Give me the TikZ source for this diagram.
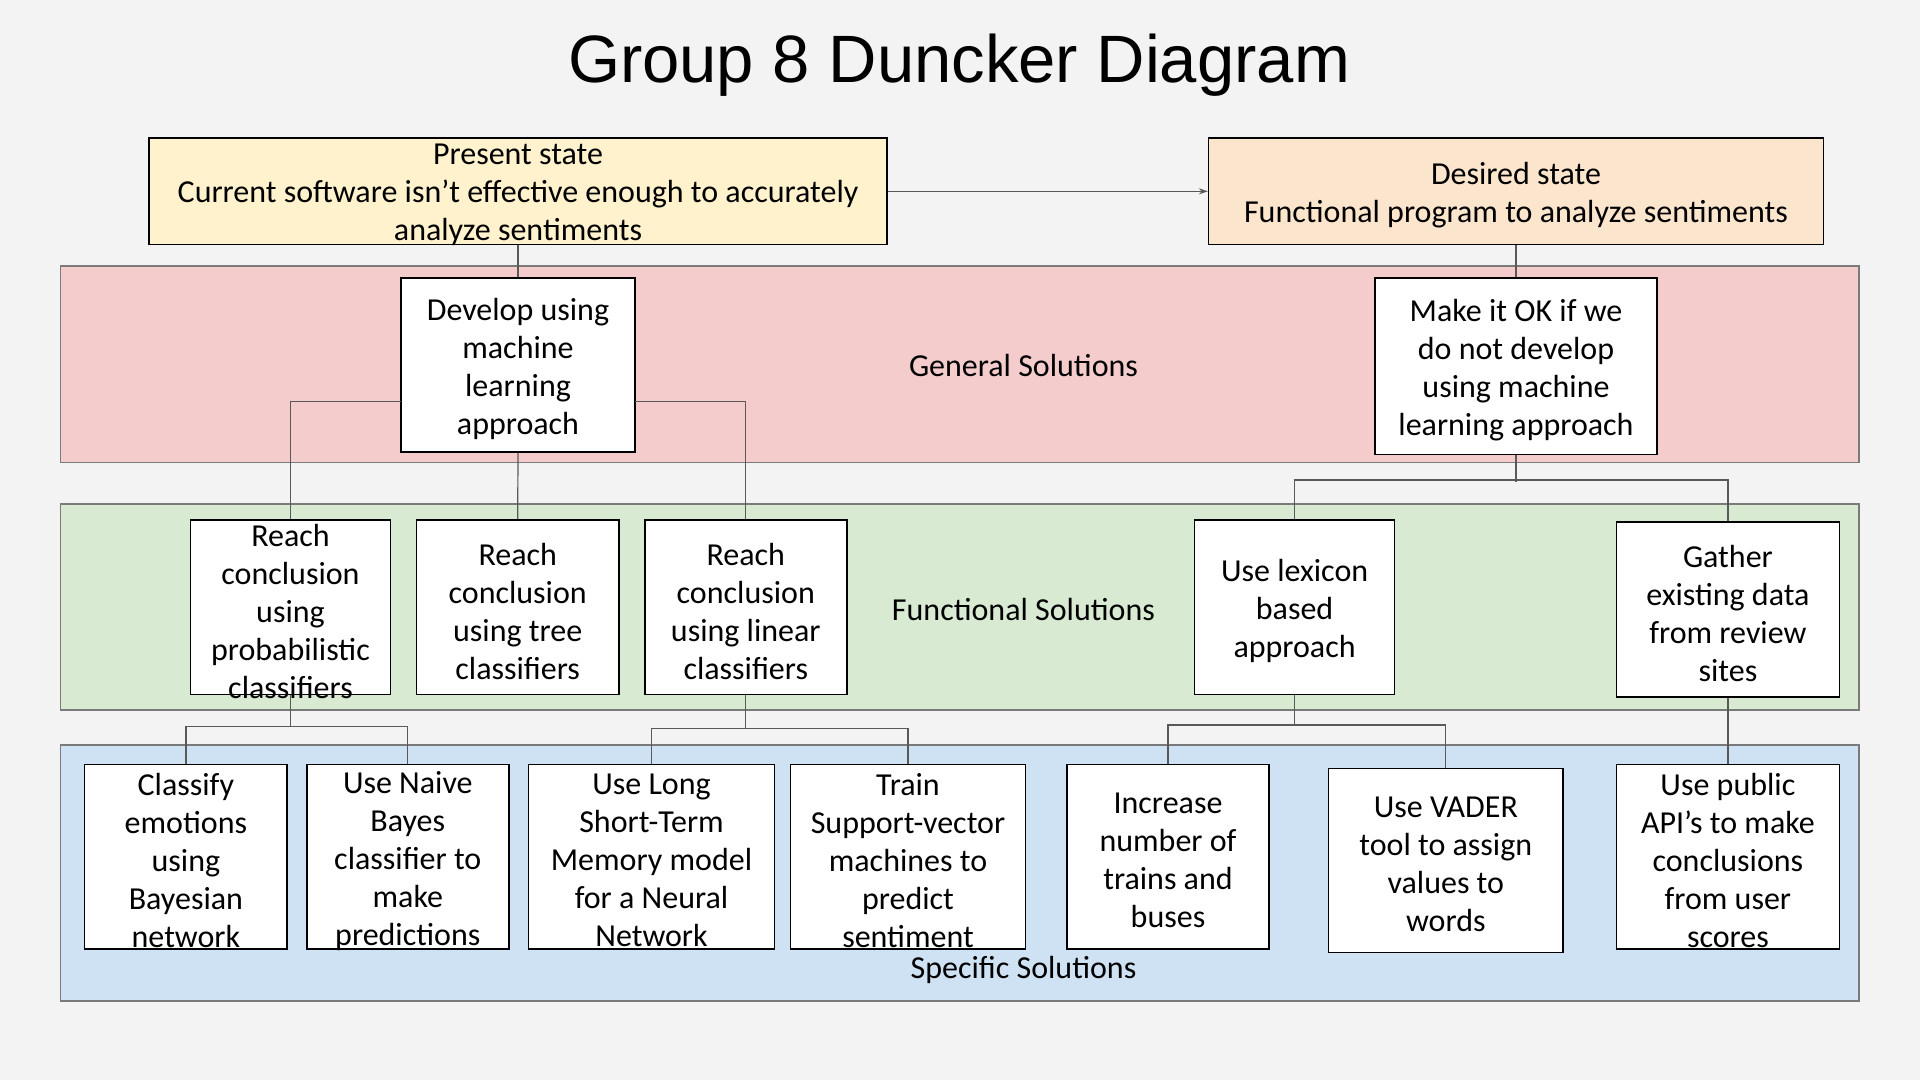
\documentclass[tikz,border=0pt]{standalone}
\usepackage{fontspec}
\setmainfont{Carlito}
\newfontfamily\titlefont{Liberation Sans}
\usetikzlibrary{arrows.meta}
\definecolor{bgc}{HTML}{F3F3F3}
\definecolor{genc}{HTML}{F4CCCC}
\definecolor{func}{HTML}{D9EAD3}
\definecolor{spec}{HTML}{CFE2F3}
\definecolor{presc}{HTML}{FFF2CC}
\definecolor{desc}{HTML}{FCE5CD}
\definecolor{linec}{HTML}{595959}
\definecolor{bandline}{HTML}{7A7A7A}
\tikzset{
  band/.style={draw=bandline, line width=1.4pt},
  box/.style={draw=black, line width=1.6pt, fill=white, inner sep=0pt},
  txt/.style={align=center, inner sep=0pt, yshift=-4pt, font=\fontsize{32}{38}\selectfont},
  lbl/.style={inner sep=0pt, font=\fontsize{32}{38}\selectfont},
  conn/.style={draw=linec, line width=1.2pt},
}
\newcommand\mybox[7]{% name, x, y, w, h, fill, text
  \node[box, fill=#6, minimum width=#4pt, minimum height=#5pt] (#1) at (#2,#3) {};
  \node[txt] (#1t) at (#2,#3) {#7};
}
\begin{document}
\begin{tikzpicture}[x=1pt,y=-1pt]
\fill[bgc] (0,0) rectangle (1920,1080);
\useasboundingbox (0,0) rectangle (1920,1080);

% title
\node[inner sep=0pt, anchor=base, font=\titlefont\fontsize{67}{80}\selectfont] (title) at (959,82) {Group 8 Duncker Diagram};

% bands
\draw[band, fill=genc] (60.6,265.9) rectangle (1858.8,462.5);
\draw[band, fill=func] (60.6,503.8) rectangle (1858.8,710);
\draw[band, fill=spec] (60.6,745) rectangle (1858.8,1000.8);
\node[lbl] (genl) at (1023.5,365) {General Solutions};
\node[lbl] (funl) at (1023.5,609) {Functional Solutions};
\node[lbl] (spel) at (1023.5,970) {Specific Solutions};

% states
\mybox{present}{518}{191.3}{738}{106.5}{presc}{Present state\\Current software isn’t effective enough to accurately\\analyze sentiments}
\mybox{desired}{1516}{191.3}{614.7}{106.5}{desc}{Desired state\\Functional program to analyze sentiments}

% general
\mybox{develop}{518}{365}{234}{174}{white}{Develop using\\machine\\learning\\approach}
\mybox{make}{1516}{366.3}{282}{176.6}{white}{Make it OK if we\\do not develop\\using machine\\learning approach}

% functional
\mybox{prob}{290.5}{607.3}{200}{174.6}{white}{Reach\\conclusion\\using\\probabilistic\\classifiers}
\mybox{tree}{517.7}{607.3}{202.7}{174.6}{white}{Reach\\conclusion\\using tree\\classifiers}
\mybox{linear}{745.8}{607.3}{202}{174.6}{white}{Reach\\conclusion\\using linear\\classifiers}
\mybox{lex}{1294.6}{607.3}{200}{174.6}{white}{Use lexicon\\based\\approach}
\mybox{gather}{1727.9}{609.4}{223}{174.7}{white}{Gather\\existing data\\from review\\sites}

% specific
\mybox{classify}{185.9}{856.8}{202.7}{184.5}{white}{Classify\\emotions\\using\\Bayesian\\network}
\mybox{naive}{407.8}{856.8}{202}{184.5}{white}{Use Naive\\Bayes\\classifier to\\make\\predictions}
\mybox{lstm}{651.5}{856.8}{246.2}{184.5}{white}{Use Long\\Short-Term\\Memory model\\for a Neural\\Network}
\mybox{svm}{908}{856.8}{235}{184.5}{white}{Train\\Support-vector\\machines to\\predict\\sentiment}
\mybox{increase}{1168}{856.8}{202}{184.5}{white}{Increase\\number of\\trains and\\buses}
\mybox{vader}{1445.8}{860.4}{234.4}{184.2}{white}{Use VADER\\tool to assign\\values to\\words}
\mybox{public}{1727.9}{856.8}{223}{184.5}{white}{Use public\\API’s to make\\conclusions\\from user\\scores}

% connector helper points
\coordinate (devl) at (401,401.5);
\coordinate (devr) at (635,401.5);
\coordinate (mkj) at (1516,480);
\coordinate (mkend) at (1516,482);
\coordinate (pbj) at (290.5,726.6);
\coordinate (lnj) at (745.8,728.4);
\coordinate (lxj) at (1294.6,725);

% connectors
\draw[conn, -{Stealth[length=9pt,width=6pt]}] (present.east) -- (desired.west);
\draw[conn] (present.south) -- (develop.north);
\draw[conn] (desired.south) -- (make.north);
\draw[conn] (devl) -| (prob.north);
\draw[conn] (devr) -| (linear.north);
\draw[conn] (develop.south) -- (tree.north);
\draw[conn] (make.south) -- (mkend);
\draw[conn] (lex.north) |- (mkj) -| (gather.north);
\draw[conn] (prob.south) -- (pbj);
\draw[conn] (classify.north) |- (pbj) -| (naive.north);
\draw[conn] (linear.south) -- (lnj);
\draw[conn] (lstm.north) |- (lnj) -| (svm.north);
\draw[conn] (lex.south) -- (lxj);
\draw[conn] (increase.north) |- (lxj) -| (vader.north);
\draw[conn] (gather.south) -- (public.north);
\end{tikzpicture}
\end{document}
